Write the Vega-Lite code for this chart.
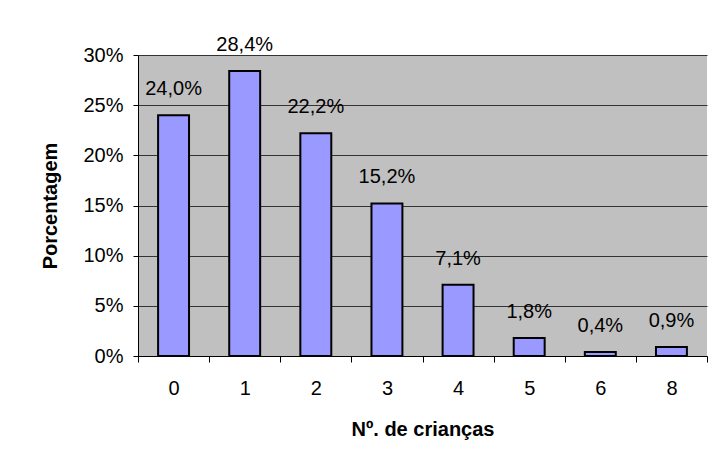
{
  "$schema": "https://vega.github.io/schema/vega-lite/v6.json",
  "width": 569,
  "height": 301,
  "autosize": {"type": "none"},
  "padding": {"left": 138, "top": 55, "right": 5, "bottom": 111},
  "background": "white",
  "config": {
    "locale": {"number": {"decimal": ",", "thousands": ".", "grouping": [3], "currency": ["R$", ""]}},
    "view": {"fill": "#C0C0C0", "stroke": null},
    "font": "Liberation Sans"
  },
  "data": {
    "values": [
      {"filhos": "0", "pct": 0.240},
      {"filhos": "1", "pct": 0.284},
      {"filhos": "2", "pct": 0.222},
      {"filhos": "3", "pct": 0.152},
      {"filhos": "4", "pct": 0.071},
      {"filhos": "5", "pct": 0.018},
      {"filhos": "6", "pct": 0.004},
      {"filhos": "8", "pct": 0.009}
    ]
  },
  "encoding": {
    "x": {
      "field": "filhos",
      "type": "ordinal",
      "sort": null,
      "scale": {"paddingInner": 0, "paddingOuter": 0},
      "axis": {
        "title": "Nº. de crianças",
        "titleFontSize": 20,
        "titleFontWeight": "bold",
        "titleColor": "black",
        "titlePadding": 21,
        "labelAngle": 0,
        "labelFontSize": 20,
        "labelColor": "black",
        "labelPadding": 16,
        "tickBand": "extent",
        "tickSize": 6,
        "tickColor": "black",
        "domainColor": "black",
        "grid": false
      }
    },
    "y": {
      "field": "pct",
      "type": "quantitative",
      "scale": {"domain": [0, 0.3], "nice": false},
      "axis": {
        "title": "Porcentagem",
        "titleFontSize": 20,
        "titleFontWeight": "bold",
        "titleColor": "black",
        "titlePadding": 22,
        "values": [0, 0.05, 0.1, 0.15, 0.2, 0.25, 0.3],
        "format": ".0%",
        "labelFontSize": 20,
        "labelColor": "black",
        "labelPadding": 10,
        "tickSize": 5,
        "tickColor": "black",
        "domainColor": "black",
        "grid": true,
        "gridColor": "#333333",
        "gridOpacity": 1,
        "gridWidth": 1
      }
    }
  },
  "layer": [
    {"mark": {"type": "bar", "width": {"band": 0.435}, "fill": "#9999FF", "stroke": "black", "strokeWidth": 2}},
    {
      "mark": {"type": "text", "baseline": "alphabetic", "dy": -20, "fontSize": 20, "color": "black"},
      "encoding": {"text": {"field": "pct", "type": "quantitative", "format": ".1%"}}
    }
  ]
}
